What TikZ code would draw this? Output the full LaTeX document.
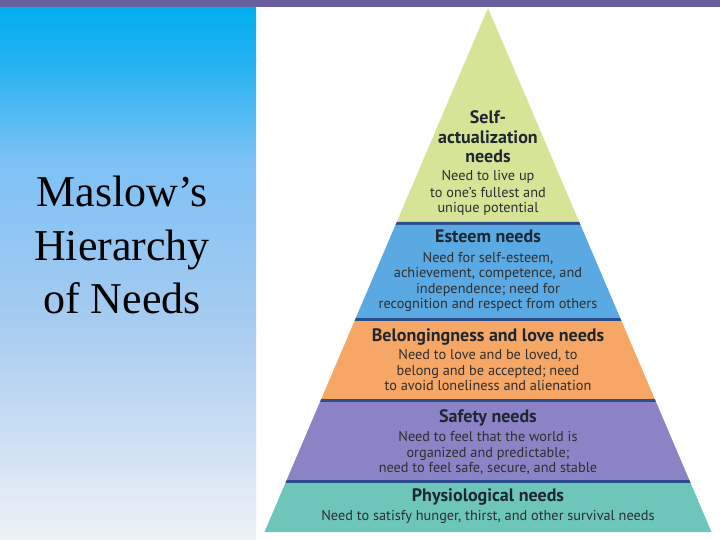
\documentclass[tikz,border=0pt]{standalone}
\usepackage{fontspec}
\setmainfont{Liberation Serif}
\newfontfamily\pyrfont{PT Sans}
\definecolor{topbar}{HTML}{6A5E9E}
\definecolor{cyanA}{HTML}{00AEEF}
\definecolor{cyanB}{HTML}{22B2F1}
\definecolor{blueC}{HTML}{7DC1F6}
\definecolor{blueD}{HTML}{A9CCEF}
\definecolor{blueE}{HTML}{EEF2F7}
\definecolor{lvgreen}{HTML}{D5E497}
\definecolor{lvblue}{HTML}{5BA9E3}
\definecolor{lvorange}{HTML}{F7A765}
\definecolor{lvpurple}{HTML}{8B83C6}
\definecolor{lvteal}{HTML}{6DC6B9}
\definecolor{divnavy}{HTML}{2B4D8C}
\definecolor{headtxt}{HTML}{1E2630}
\definecolor{bodytxt}{HTML}{2E2E2E}
\tikzset{
  head/.style={anchor=base, inner sep=0pt, text=headtxt, font=\pyrfont\bfseries\fontsize{18}{20}\selectfont},
  body/.style={anchor=base, inner sep=0pt, text=bodytxt, font=\pyrfont\fontsize{14.3}{16}\selectfont},
  title/.style={anchor=base, inner sep=0pt, text=black, font=\fontsize{44}{53}\selectfont},
}
\begin{document}
\begin{tikzpicture}[x=1pt,y=-1pt]
\useasboundingbox (0,0) rectangle (720,540);
\fill[white] (0,0) rectangle (720,540);
% left panel gradient
\shade[top color=cyanA, bottom color=cyanB] (0,6) rectangle (256,61);
\shade[top color=cyanB, bottom color=blueC] (0,60) rectangle (256,161);
\shade[top color=blueC, bottom color=blueD] (0,160) rectangle (256,331);
\shade[top color=blueD, bottom color=blueE] (0,330) rectangle (256,540);
% top bar
\fill[topbar] (0,0) rectangle (720,7);
% pyramid bands
\fill[lvgreen] (488,8) -- (579.28,222) -- (396.72,222) -- cycle;
\fill[divnavy] (396.72,222) -- (579.28,222) -- (580.56,225) -- (395.44,225) -- cycle;
\fill[lvblue] (395.44,225) -- (580.56,225) -- (620.22,318) -- (355.78,318) -- cycle;
\fill[divnavy] (355.78,318) -- (620.22,318) -- (621.50,321) -- (354.50,321) -- cycle;
\fill[lvorange] (354.50,321) -- (621.50,321) -- (654.77,399) -- (321.23,399) -- cycle;
\fill[divnavy] (321.23,399) -- (654.77,399) -- (656.05,402) -- (319.95,402) -- cycle;
\fill[lvpurple] (319.95,402) -- (656.05,402) -- (689.32,480) -- (286.68,480) -- cycle;
\fill[divnavy] (286.68,480) -- (689.32,480) -- (690.60,483) -- (285.40,483) -- cycle;
\fill[lvteal] (285.40,483) -- (690.60,483) -- (711.50,532) -- (264.50,532) -- cycle;
% left title
\node[title] (t1) at (122,207) {Maslow’s};
\node[title] (t2) at (122,260) {Hierarchy};
\node[title] (t3) at (122,313) {of Needs};
% self-actualization
\node[head] (sa1) at (488,124) {Self-};
\node[head] (sa2) at (488,143.5) {actualization};
\node[head] (sa3) at (488,163) {needs};
\node[body] (sab1) at (488,180.5) {Need to live up};
\node[body] (sab2) at (488,197) {to one’s fullest and};
\node[body] (sab3) at (488,213) {unique potential};
% esteem
\node[head] (es) at (488,242.5) {Esteem needs};
\node[body] (esb1) at (488,262) {Need for self-esteem,};
\node[body] (esb2) at (488,277.5) {achievement, competence, and};
\node[body] (esb3) at (488,293) {independence; need for};
\node[body] (esb4) at (488,308.5) {recognition and respect from others};
% belongingness
\node[head] (be) at (488,341.5) {Belongingness and love needs};
\node[body] (beb1) at (488,359.5) {Need to love and be loved, to};
\node[body] (beb2) at (488,375) {belong and be accepted; need};
\node[body] (beb3) at (488,390.5) {to avoid loneliness and alienation};
% safety
\node[head] (sf) at (488,422) {Safety needs};
\node[body] (sfb1) at (488,441.5) {Need to feel that the world is};
\node[body] (sfb2) at (488,457) {organized and predictable;};
\node[body] (sfb3) at (488,472.5) {need to feel safe, secure, and stable};
% physiological
\node[head] (ph) at (488,501.5) {Physiological needs};
\node[body] (phb) at (488,520) {Need to satisfy hunger, thirst, and other survival needs};
\end{tikzpicture}
\end{document}
